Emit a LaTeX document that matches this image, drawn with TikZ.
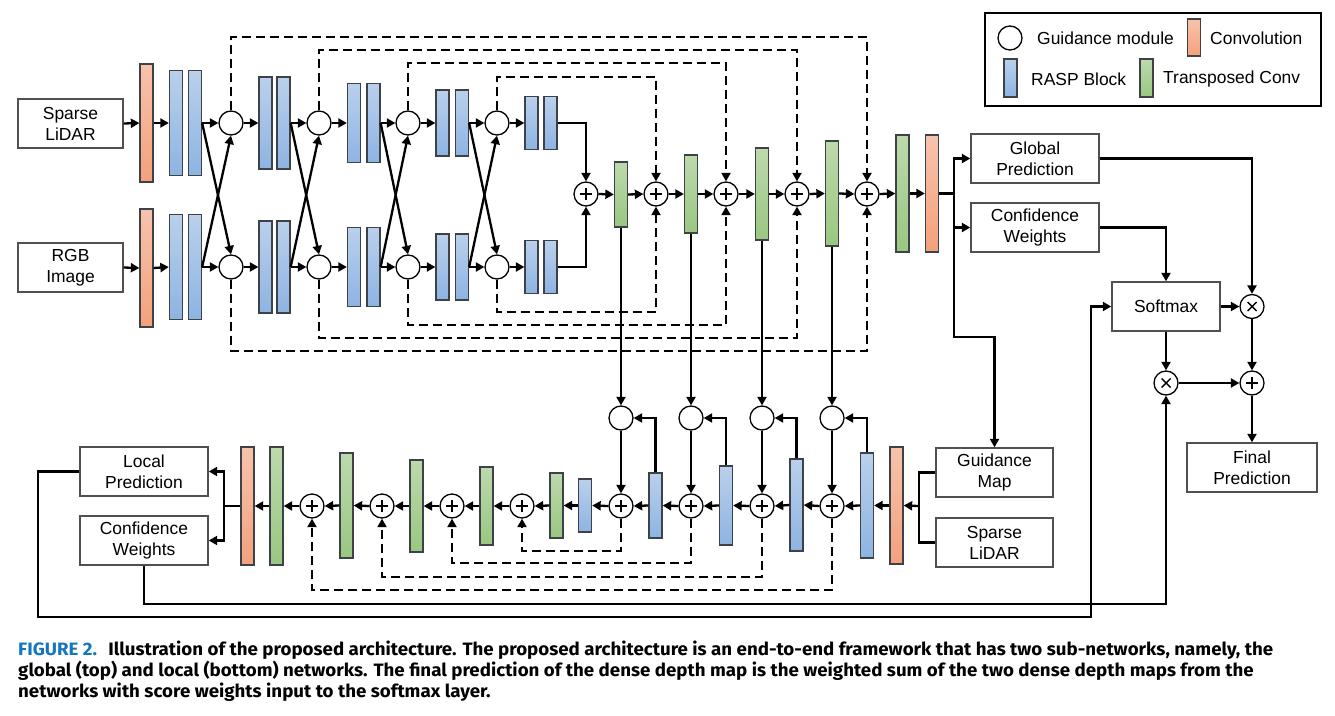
\documentclass[tikz,border=0pt]{standalone}
\usepackage{fontspec}
\setmainfont{Liberation Sans}
\newfontfamily\capfont{Fira Sans}
\usetikzlibrary{arrows.meta}
\definecolor{blueT}{RGB}{186,208,236}
\definecolor{blueB}{RGB}{141,180,226}
\definecolor{orT}{RGB}{247,195,172}
\definecolor{orB}{RGB}{244,161,124}
\definecolor{grT}{RGB}{189,217,173}
\definecolor{grB}{RGB}{153,199,128}
\definecolor{bordc}{RGB}{60,66,72}
\definecolor{boxc}{RGB}{80,80,80}
\definecolor{figblue}{RGB}{20,118,190}
\newcommand\capstyle{\capfont\bfseries\fontsize{18}{21}\selectfont}
\ExplSyntaxOn
\NewDocumentCommand\setcapfactor{m m}{
  \hbox_set:Nn \l_tmpa_box {#2}
  \xdef\capfactor{\fp_eval:n {\dim_to_fp:n {#1} / \dim_to_fp:n {\box_wd:N \l_tmpa_box}}}
}
\ExplSyntaxOff
\newcommand\capA{\textcolor{figblue}{FIGURE 2.}\hspace{0.6em}Illustration of the proposed architecture. The proposed architecture is an end-to-end framework that has two sub-networks, namely, the}
\newcommand\capB{global (top) and local (bottom) networks. The final prediction of the dense depth map is the weighted sum of the two dense depth maps from the}
\newcommand\capC{networks with score weights input to the softmax layer.}
\tikzset{
  blk/.style={draw=bordc, line width=1.3pt, minimum width=13bp, inner sep=0pt},
  blkb/.style={blk, top color=blueT, bottom color=blueB},
  blko/.style={blk, top color=orT, bottom color=orB},
  blkg/.style={blk, top color=grT, bottom color=grB},
  gm/.style={circle, draw=black, line width=1.3pt, minimum size=24bp, inner sep=0pt, fill=white},
  pl/.style={gm, path picture={\draw[line width=1.4pt]
      ([xshift=-6bp]path picture bounding box.center) -- ([xshift=6bp]path picture bounding box.center)
      ([yshift=-6bp]path picture bounding box.center) -- ([yshift=6bp]path picture bounding box.center);}},
  tm/.style={gm, path picture={\draw[line width=1.4pt]
      ([shift={(-4.5bp,-4.5bp)}]path picture bounding box.center) -- ([shift={(4.5bp,4.5bp)}]path picture bounding box.center)
      ([shift={(-4.5bp,4.5bp)}]path picture bounding box.center) -- ([shift={(4.5bp,-4.5bp)}]path picture bounding box.center);}},
  tbox/.style={draw=boxc, line width=1.4pt, fill=white, align=center, inner sep=0pt, minimum height=49bp},
  ln/.style={line width=2.3bp},
  arr/.style={ln, -{Triangle[length=8.5bp,width=9bp]}},
  darr/.style={arr, dash pattern=on 9bp off 5bp},
}
\begin{document}
\begin{tikzpicture}[x=1bp,y=-1bp,font=\fontsize{17.5}{21}\selectfont]
\useasboundingbox (0,0) rectangle (1335,715);

% ---------- top (global) network ----------
\node[tbox, minimum width=105bp] (sl) at (70.5,123.5) {Sparse\\LiDAR};
\node[tbox, minimum width=105bp] (rgb) at (70.5,267.5) {RGB\\Image};
\node[blko, minimum height=118bp] (tc) at (146.5,123) {};
\node[blko, minimum height=118bp] (bc) at (146.5,268) {};

\node[blkb, minimum height=105bp] (t1a) at (176,123) {};
\node[blkb, minimum height=105bp] (t1b) at (195,123) {};
\node[blkb, minimum height=92bp] (t2a) at (265.5,123) {};
\node[blkb, minimum height=92bp] (t2b) at (283.5,123) {};
\node[blkb, minimum height=79bp] (t3a) at (354,123) {};
\node[blkb, minimum height=79bp] (t3b) at (373.5,123) {};
\node[blkb, minimum height=66bp] (t4a) at (442.5,123) {};
\node[blkb, minimum height=66bp] (t4b) at (462,123) {};
\node[blkb, minimum height=53bp] (t5a) at (531.5,123) {};
\node[blkb, minimum height=53bp] (t5b) at (550.5,123) {};

\node[blkb, minimum height=105bp] (b1a) at (176,267) {};
\node[blkb, minimum height=105bp] (b1b) at (195,267) {};
\node[blkb, minimum height=92bp] (b2a) at (265.5,267) {};
\node[blkb, minimum height=92bp] (b2b) at (283.5,267) {};
\node[blkb, minimum height=79bp] (b3a) at (354,267) {};
\node[blkb, minimum height=79bp] (b3b) at (373.5,267) {};
\node[blkb, minimum height=66bp] (b4a) at (442.5,267) {};
\node[blkb, minimum height=66bp] (b4b) at (462,267) {};
\node[blkb, minimum height=53bp] (b5a) at (531.5,267) {};
\node[blkb, minimum height=53bp] (b5b) at (550.5,267) {};

\node[gm] (gt1) at (231,123) {};
\node[gm] (gt2) at (319,123) {};
\node[gm] (gt3) at (408,123) {};
\node[gm] (gt4) at (497,123) {};
\node[gm] (gb1) at (231,267) {};
\node[gm] (gb2) at (319,267) {};
\node[gm] (gb3) at (408,267) {};
\node[gm] (gb4) at (497,267) {};

\node[pl] (p1) at (586,194) {};
\node[blkg, minimum height=65bp] (g1) at (621,194.5) {};
\node[pl] (p2) at (656,194) {};
\node[blkg, minimum height=78bp] (g2) at (691,194) {};
\node[pl] (p3) at (726,194) {};
\node[blkg, minimum height=92bp] (g3) at (762,194) {};
\node[pl] (p4) at (797,194) {};
\node[blkg, minimum height=105bp] (g4) at (832,193.5) {};
\node[pl] (p5) at (867,194) {};
\node[blkg, minimum height=117bp] (g5) at (902.5,193.5) {};
\node[blko, minimum height=117bp] (oc) at (932,193.5) {};

\draw[arr] (sl.east) -- (tc.west);
\draw[arr] (tc.east) -- (t1a.west);
\draw[arr] (rgb.east) -- (bc.west);
\draw[arr] (bc.east) -- (b1a.west);
\foreach \i/\n in {1/2,2/3,3/4,4/5}{
  \draw[arr] (t\i b.east) -- (gt\i.west);
  \draw[arr] (b\i b.east) -- (gb\i.west);
  \draw[arr] (t\i b.east) -- (gb\i.north);
  \draw[arr] (b\i b.east) -- (gt\i.south);
  \draw[arr] (gt\i.east) -- (t\n a.west);
  \draw[arr] (gb\i.east) -- (b\n a.west);
}
\draw[arr] (t5b.east) -| (p1.north);
\draw[arr] (b5b.east) -| (p1.south);
\draw[arr] (p1.east) -- (g1.west);
\draw[arr] (g1.east) -- (p2.west);
\draw[arr] (p2.east) -- (g2.west);
\draw[arr] (g2.east) -- (p3.west);
\draw[arr] (p3.east) -- (g3.west);
\draw[arr] (g3.east) -- (p4.west);
\draw[arr] (p4.east) -- (g4.west);
\draw[arr] (g4.east) -- (p5.west);
\draw[arr] (p5.east) -- (g5.west);
\draw[arr] (g5.east) -- (oc.west);

% dashed skip connections (top)
\draw[darr] (gt1.north) -- (gt1.north |- 0,37) -| (p5.north);
\draw[darr] (gb1.south) -- (gb1.south |- 0,351) -| (p5.south);
\draw[darr] (gt2.north) -- (gt2.north |- 0,50) -| (p4.north);
\draw[darr] (gb2.south) -- (gb2.south |- 0,338) -| (p4.south);
\draw[darr] (gt3.north) -- (gt3.north |- 0,63) -| (p3.north);
\draw[darr] (gb3.south) -- (gb3.south |- 0,325) -| (p3.south);
\draw[darr] (gt4.north) -- (gt4.north |- 0,77) -| (p2.north);
\draw[darr] (gb4.south) -- (gb4.south |- 0,312) -| (p2.south);

% ---------- bottom (local) network ----------
\node[gm] (gm1) at (621,418) {};
\node[gm] (gm2) at (691,418) {};
\node[gm] (gm3) at (762,418) {};
\node[gm] (gm4) at (832,418) {};
\node[pl] (bp1) at (621,506) {};
\node[pl] (bp2) at (691,506) {};
\node[pl] (bp3) at (762,506) {};
\node[pl] (bp4) at (832,506) {};
\node[blkb, minimum height=65bp] (bb1) at (655.5,505.5) {};
\node[blkb, minimum height=79bp] (bb2) at (726,505.5) {};
\node[blkb, minimum height=92bp] (bb3) at (796.5,505) {};
\node[blkb, minimum height=105bp] (bb4) at (867,505.5) {};
\node[blko, minimum height=117bp] (boc) at (896.5,505.5) {};

\node[blkb, minimum height=53bp] (sb) at (585,505.5) {};
\node[blkg, minimum height=65bp] (lg1) at (556.5,505.5) {};
\node[pl] (lp1) at (522,506) {};
\node[blkg, minimum height=78bp] (lg2) at (486.5,506) {};
\node[pl] (lp2) at (452,506) {};
\node[blkg, minimum height=92bp] (lg3) at (416.5,506) {};
\node[pl] (lp3) at (382,506) {};
\node[blkg, minimum height=105bp] (lg4) at (346.5,505.5) {};
\node[pl] (lp4) at (312,506) {};
\node[blkg, minimum height=118bp] (lg5) at (276.5,506) {};
\node[blko, minimum height=118bp] (loc) at (247.5,506) {};

\draw[arr] (g1.south) -- (gm1.north);
\draw[arr] (g2.south) -- (gm2.north);
\draw[arr] (g3.south) -- (gm3.north);
\draw[arr] (g4.south) -- (gm4.north);
\foreach \i in {1,2,3,4}{
  \draw[arr] (gm\i.south) -- (bp\i.north);
  \draw[arr] (bb\i.north) |- (gm\i.east);
}
\draw[arr] (boc.west) -- (bb4.east);
\draw[arr] (bb4.west) -- (bp4.east);
\draw[arr] (bp4.west) -- (bb3.east);
\draw[arr] (bb3.west) -- (bp3.east);
\draw[arr] (bp3.west) -- (bb2.east);
\draw[arr] (bb2.west) -- (bp2.east);
\draw[arr] (bp2.west) -- (bb1.east);
\draw[arr] (bb1.west) -- (bp1.east);
\draw[arr] (bp1.west) -- (sb.east);
\draw[arr] (sb.west) -- (lg1.east);
\draw[arr] (lg1.west) -- (lp1.east);
\draw[arr] (lp1.west) -- (lg2.east);
\draw[arr] (lg2.west) -- (lp2.east);
\draw[arr] (lp2.west) -- (lg3.east);
\draw[arr] (lg3.west) -- (lp3.east);
\draw[arr] (lp3.west) -- (lg4.east);
\draw[arr] (lg4.west) -- (lp4.east);
\draw[arr] (lp4.west) -- (lg5.east);
\draw[arr] (lg5.west) -- (loc.east);

\draw[darr] (bp1.south) -- (bp1.south |- 0,551) -| (lp1.south);
\draw[darr] (bp2.south) -- (bp2.south |- 0,563) -| (lp2.south);
\draw[darr] (bp3.south) -- (bp3.south |- 0,577) -| (lp3.south);
\draw[darr] (bp4.south) -- (bp4.south |- 0,590) -| (lp4.south);

\node[tbox, minimum width=128bp] (lpred) at (144,471.5) {Local\\Prediction};
\node[tbox, minimum width=128bp] (lcw) at (144,540.5) {Confidence\\Weights};
\coordinate (lbr) at (224,506);
\draw[ln] (loc.west) -- (lbr);
\draw[arr] (lbr) |- (lpred.east);
\draw[arr] (lbr) |- (lcw.east);

\node[tbox, minimum width=117bp] (gmap) at (994.5,472.5) {Guidance\\Map};
\node[tbox, minimum width=117bp] (sl2) at (994.5,542.5) {Sparse\\LiDAR};
\coordinate (rbr) at (919,506);
\draw[ln] (gmap.west) -| (rbr);
\draw[ln] (sl2.west) -| (rbr);
\draw[arr] (rbr) -- (boc.east);

% ---------- fusion ----------
\node[tbox, minimum width=128bp] (gp) at (1035,158.5) {Global\\Prediction};
\node[tbox, minimum width=128bp] (cw) at (1035,227.5) {Confidence\\Weights};
\node[tbox, minimum width=108bp] (sm) at (1166,306.5) {Softmax};
\node[tm] (tm1) at (1252,306.5) {};
\node[tm] (tm2) at (1166,383) {};
\node[pl] (pf) at (1252,383) {};
\node[tbox, minimum width=130bp] (fp) at (1252,467.5) {Final\\Prediction};

\coordinate (tbr) at (954,193.5);
\draw[ln] (oc.east) -- (tbr);
\draw[arr] (tbr) |- (gp.west);
\draw[arr] (tbr) |- (cw.west);
\draw[arr] (tbr) -- (954,337) -| (gmap.north);
\draw[arr] (gp.east) -| (tm1.north);
\draw[arr] (cw.east) -| (sm.north);
\draw[arr] (sm.east) -- (tm1.west);
\draw[arr] (sm.south) -- (tm2.north);
\draw[arr] (tm2.east) -- (pf.west);
\draw[arr] (tm1.south) -- (pf.north);
\draw[arr] (pf.south) -- (fp.north);
\draw[arr] (lpred.west) -| (38,617) -| ([xshift=-20bp]sm.west) -- (sm.west);
\draw[arr] (lcw.south) |- (tm2.south |- 0,604) -- (tm2.south);

% ---------- legend ----------
\node[draw=black, line width=1.4pt, minimum width=336bp, minimum height=93bp, inner sep=0pt] (leg) at (1153,59.5) {};
\node[gm] (lgc) at (1010,38) {};
\node[anchor=west, inner sep=0pt] (lgct) at (1037,38) {Guidance module};
\node[blko, minimum height=37bp] (lgo) at (1194,37.5) {};
\node[anchor=west, inner sep=0pt] (lgot) at (1210,38) {Convolution};
\node[blkb, minimum height=38bp] (lgb) at (1010.5,78) {};
\node[anchor=west, inner sep=0pt] (lgbt) at (1031,79) {RASP Block};
\node[blkg, minimum height=38bp] (lgg) at (1146.5,78) {};
\node[anchor=west, inner sep=0pt] (lggt) at (1163,79) {Transposed Conv};

% ---------- caption ----------
\node[anchor=base west, inner sep=0pt] (cap1) at (18,655) {\setcapfactor{1255bp}{\capstyle\capA}\scalebox{\capfactor}[1]{\capstyle\capA}};
\node[anchor=base west, inner sep=0pt] (cap2) at (18,676) {\scalebox{\capfactor}[1]{\capstyle\capB}};
\node[anchor=base west, inner sep=0pt] (cap3) at (18,697) {\scalebox{\capfactor}[1]{\capstyle\capC}};
\end{tikzpicture}
\end{document}
